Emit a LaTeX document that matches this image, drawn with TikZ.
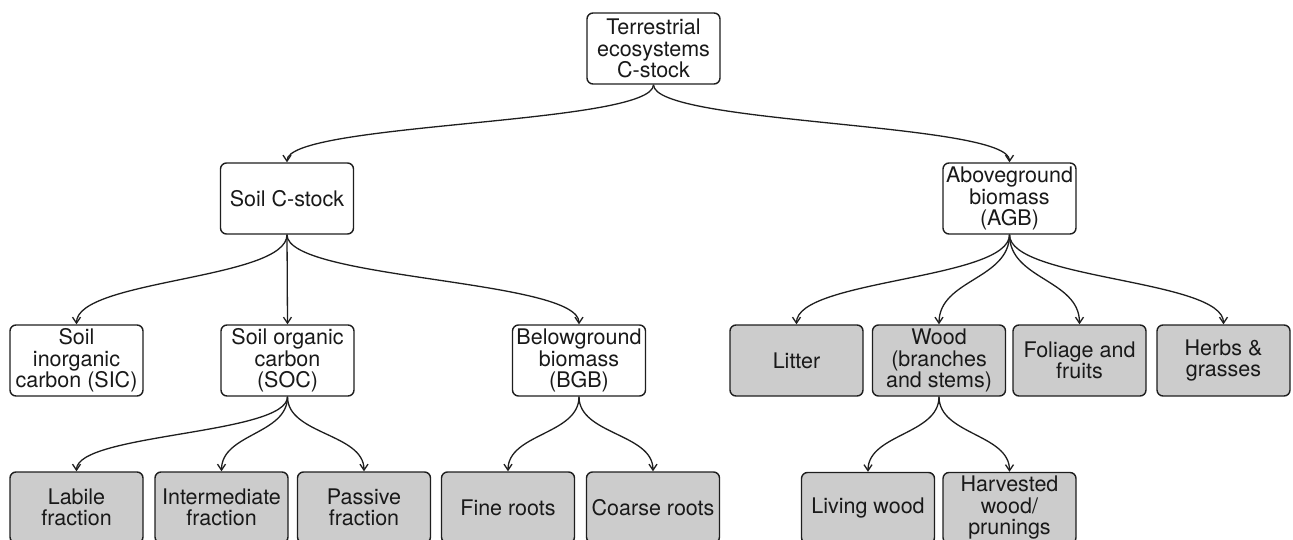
\documentclass[tikz,border=0pt]{standalone}
\usepackage{fontspec}
\setmainfont{TeX Gyre Heros}
\usetikzlibrary{arrows.meta}
\definecolor{leafgray}{RGB}{204,204,204}
\definecolor{edgec}{RGB}{30,30,30}
\begin{document}
\begin{tikzpicture}[x=1pt,y=-1pt,
  box/.style={draw=edgec, line width=1.4pt, rounded corners=6pt, minimum width=133pt, minimum height=71pt, inner sep=0pt, align=center, font=\fontsize{21.5}{21.5}\selectfont, text=black!90, fill=white},
  leaf/.style={box, fill=leafgray},
  arr/.style={draw=edgec, line width=1.3pt, -{Straight Barb[length=6pt,width=8pt]}}
]
\useasboundingbox (0,0) rectangle (1293,540);
\node[box] (top) at (653.5,48.5) {Terrestrial\\ecosystems\\C-stock};
\node[box] (soil) at (287,198.5) {Soil C-stock};
\node[box] (agb) at (1009.5,198.5) {Aboveground\\biomass\\(AGB)};
\node[box] (sic) at (76.5,360.5) {Soil\\inorganic\\carbon (SIC)};
\node[box] (soc) at (287.5,360.5) {Soil organic\\carbon\\(SOC)};
\node[box] (bgb) at (579,360.5) {Belowground\\biomass\\(BGB)};
\node[leaf] (litter) at (796.5,360.5) {Litter};
\node[leaf] (wood) at (939,360.5) {Wood\\(branches\\and stems)};
\node[leaf] (foliage) at (1079.5,360.5) {Foliage and\\fruits};
\node[leaf] (herbs) at (1223.5,360.5) {Herbs \&\\grasses};
\node[leaf] (labile) at (76.5,507.5) {Labile\\fraction};
\node[leaf] (inter) at (221.5,507.5) {Intermediate\\fraction};
\node[leaf] (passive) at (364,507.5) {Passive\\fraction};
\node[leaf] (fine) at (508,507.5) {Fine roots};
\node[leaf] (coarse) at (653,507.5) {Coarse roots};
\node[leaf] (living) at (868,508) {Living wood};
\node[leaf] (harv) at (1009.5,508) {Harvested\\wood/\\prunings};

\draw[arr] (top.south) .. controls +(0,40) and +(0,-40) .. (soil.north);
\draw[arr] (top.south) .. controls +(0,40) and +(0,-40) .. (agb.north);

\draw[arr] (soil.south) .. controls +(0,45) and +(0,-45) .. (sic.north);
\draw[arr] (soil.south) -- (soc.north);
\draw[arr] (soil.south) .. controls +(0,45) and +(0,-45) .. (bgb.north);

\draw[arr] (agb.south) .. controls +(0,45) and +(0,-45) .. (litter.north);
\draw[arr] (agb.south) .. controls +(0,45) and +(0,-45) .. (wood.north);
\draw[arr] (agb.south) .. controls +(0,45) and +(0,-45) .. (foliage.north);
\draw[arr] (agb.south) .. controls +(0,45) and +(0,-45) .. (herbs.north);

\draw[arr] (soc.south) .. controls +(0,38) and +(0,-38) .. (labile.north);
\draw[arr] (soc.south) .. controls +(0,38) and +(0,-38) .. (inter.north);
\draw[arr] (soc.south) .. controls +(0,38) and +(0,-38) .. (passive.north);

\draw[arr] (bgb.south) .. controls +(0,38) and +(0,-38) .. (fine.north);
\draw[arr] (bgb.south) .. controls +(0,38) and +(0,-38) .. (coarse.north);

\draw[arr] (wood.south) .. controls +(0,38) and +(0,-38) .. (living.north);
\draw[arr] (wood.south) .. controls +(0,38) and +(0,-38) .. (harv.north);
\end{tikzpicture}
\end{document}
